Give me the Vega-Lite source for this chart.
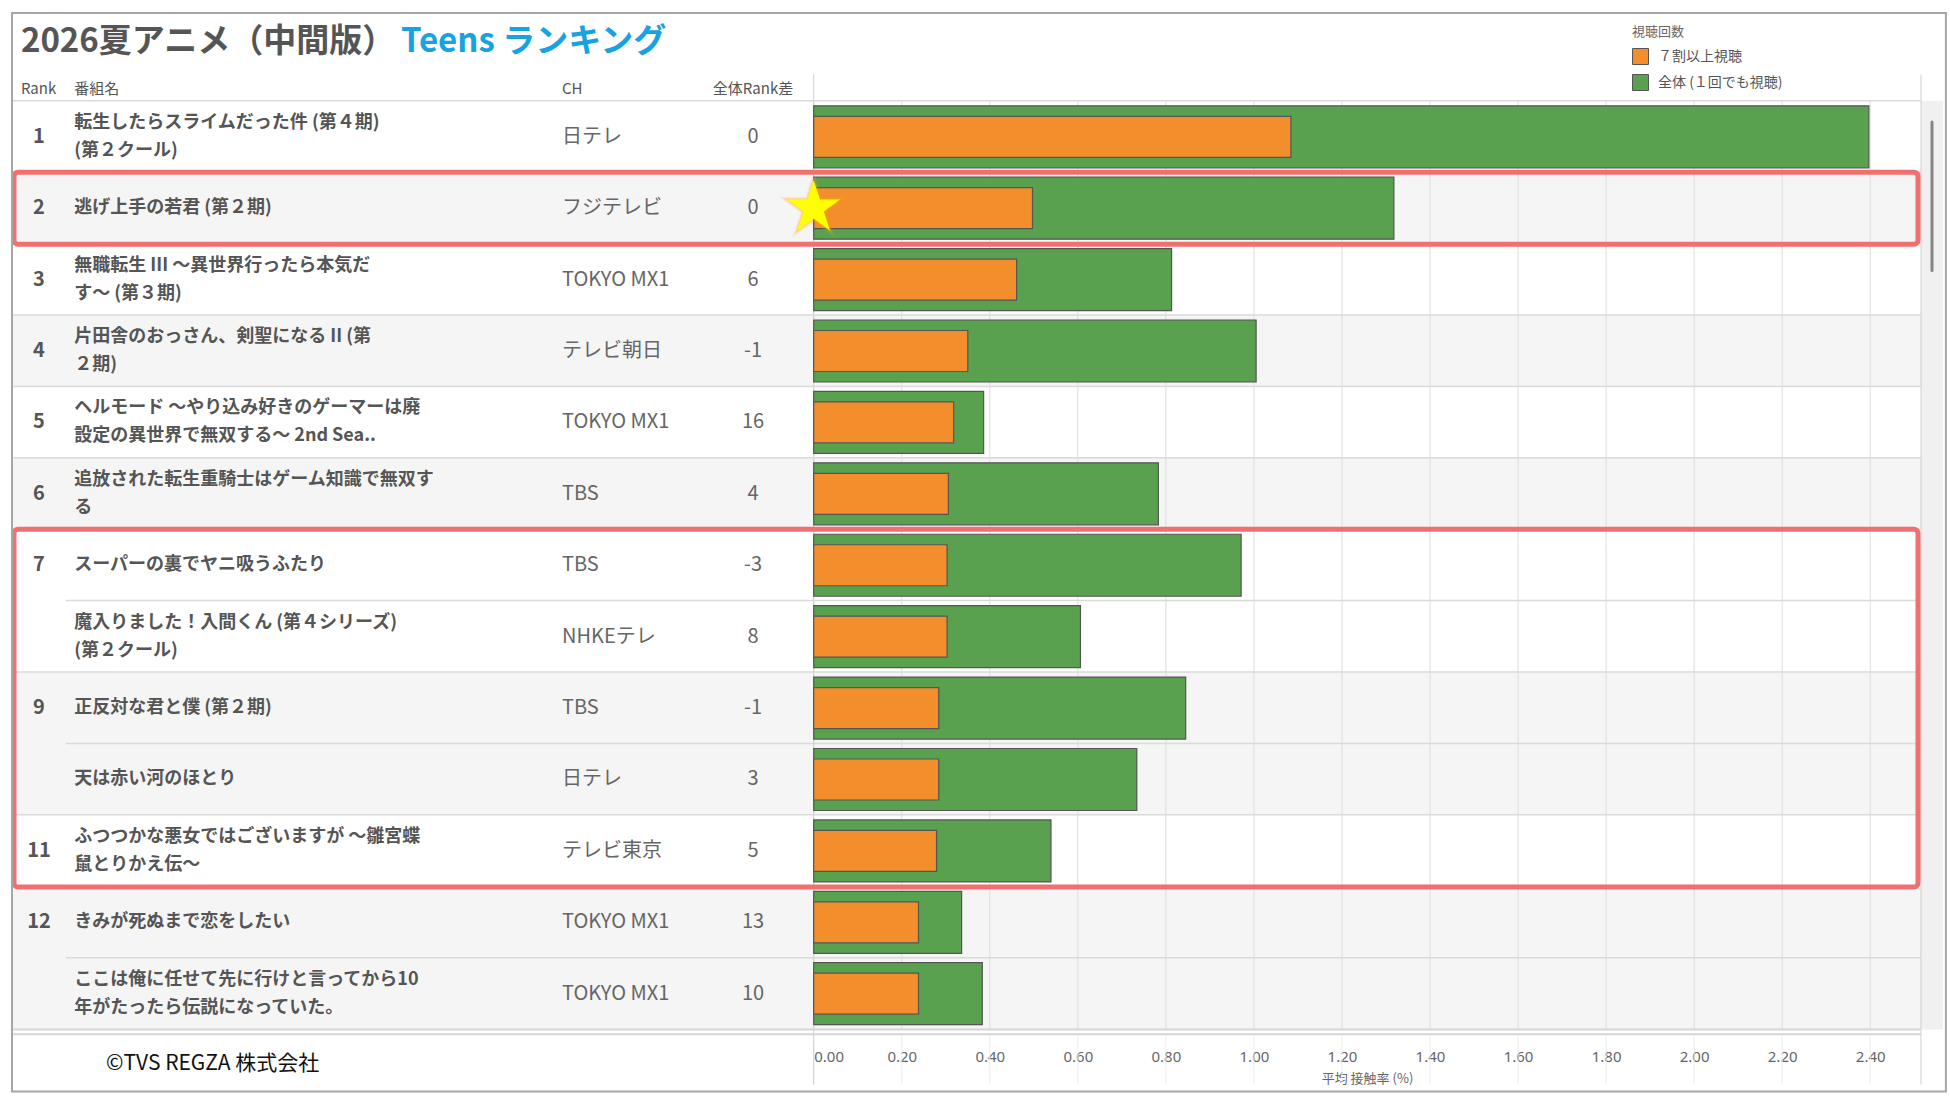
{
  "$schema": "https://vega.github.io/schema/vega-lite/v6.json",
  "width": 1950,
  "height": 1048,
  "padding": {"left": 0, "top": 0, "right": 0, "bottom": 52},
  "autosize": {"type": "none"},
  "background": "#ffffff",
  "config": {"font": "Noto Sans CJK JP", "view": {"stroke": null}},
  "datasets": {
    "rows": [
      {"pos": 1, "rank": 1, "tied": false, "name": "転生したらスライムだった件 (第４期)\n(第２クール)", "ch": "日テレ", "diff": "0", "all": 2.397, "top": 1.084},
      {"pos": 2, "rank": 2, "tied": false, "name": "逃げ上手の若君 (第２期)", "ch": "フジテレビ", "diff": "0", "all": 1.318, "top": 0.497},
      {"pos": 3, "rank": 3, "tied": false, "name": "無職転生 III ～異世界行ったら本気だ\nす～ (第３期)", "ch": "TOKYO MX1", "diff": "6", "all": 0.813, "top": 0.461},
      {"pos": 4, "rank": 4, "tied": false, "name": "片田舎のおっさん、剣聖になる II (第\n２期)", "ch": "テレビ朝日", "diff": "-1", "all": 1.005, "top": 0.35},
      {"pos": 5, "rank": 5, "tied": false, "name": "ヘルモード ～やり込み好きのゲーマーは廃\n設定の異世界で無双する～ 2nd Sea..", "ch": "TOKYO MX1", "diff": "16", "all": 0.386, "top": 0.318},
      {"pos": 6, "rank": 6, "tied": false, "name": "追放された転生重騎士はゲーム知識で無双す\nる", "ch": "TBS", "diff": "4", "all": 0.783, "top": 0.306},
      {"pos": 7, "rank": 7, "tied": false, "name": "スーパーの裏でヤニ吸うふたり", "ch": "TBS", "diff": "-3", "all": 0.971, "top": 0.303},
      {"pos": 8, "rank": 7, "tied": true, "name": "魔入りました！入間くん (第４シリーズ)\n(第２クール)", "ch": "NHKEテレ", "diff": "8", "all": 0.606, "top": 0.303},
      {"pos": 9, "rank": 9, "tied": false, "name": "正反対な君と僕 (第２期)", "ch": "TBS", "diff": "-1", "all": 0.845, "top": 0.284},
      {"pos": 10, "rank": 9, "tied": true, "name": "天は赤い河のほとり", "ch": "日テレ", "diff": "3", "all": 0.734, "top": 0.284},
      {"pos": 11, "rank": 11, "tied": false, "name": "ふつつかな悪女ではございますが ～雛宮蝶\n鼠とりかえ伝～", "ch": "テレビ東京", "diff": "5", "all": 0.539, "top": 0.279},
      {"pos": 12, "rank": 12, "tied": false, "name": "きみが死ぬまで恋をしたい", "ch": "TOKYO MX1", "diff": "13", "all": 0.336, "top": 0.238},
      {"pos": 13, "rank": 12, "tied": true, "name": "ここは俺に任せて先に行けと言ってから10\n年がたったら伝説になっていた。", "ch": "TOKYO MX1", "diff": "10", "all": 0.383, "top": 0.238}
    ],
    "ticks": [
      {"t": 0}, {"t": 0.2}, {"t": 0.4}, {"t": 0.6}, {"t": 0.8}, {"t": 1.0}, {"t": 1.2},
      {"t": 1.4}, {"t": 1.6}, {"t": 1.8}, {"t": 2.0}, {"t": 2.2}, {"t": 2.4}
    ],
    "boxes": [
      {"from": 2, "to": 2},
      {"from": 7, "to": 11}
    ]
  },
  "layer": [
    {
      "data": {"name": "rows"},
      "mark": {"type": "rect", "yOffset": -36.05, "y2Offset": 36.05},
      "encoding": {
        "x": {
          "datum": -1.8212,
          "title": "平均 接触率 (%)",
          "scale": {"domain": [-1.8485, 2.5813], "nice": false, "zero": false},
          "axis": {
            "orient": "bottom",
            "values": [0, 0.2, 0.4, 0.6, 0.8, 1.0, 1.2, 1.4, 1.6, 1.8, 2.0, 2.2, 2.4],
            "format": ".2f", "grid": false, "domain": false, "ticks": false, "tickSize": 0,
            "labelFont": "Noto Sans", "labelFontSize": 15, "labelColor": "#666666",
            "labelAlign": {"condition": {"test": "datum.value <= 0", "value": "left"}, "value": "center"},
            "labelPadding": 1, "labelFlush": false, "labelOverlap": false,
            "offset": 0,
            "titleFontSize": 13, "titleColor": "#666666",
            "titleFontWeight": "normal", "titlePadding": 8, "titleX": 1367, "titleAlign": "center"
          }
        },
        "x2": {"datum": 2.5154},
        "y": {"field": "pos", "type": "quantitative", "scale": {"domain": [-0.8454, 13.6901], "reverse": true, "nice": false, "zero": false}, "axis": null},
        "y2": {"field": "pos"},
        "fill": {
          "field": "rank", "type": "ordinal", "legend": null,
          "scale": {"domain": [1, 2, 3, 4, 5, 6, 7, 9, 11, 12],
                    "range": ["#ffffff", "#f5f5f5", "#ffffff", "#f5f5f5", "#ffffff", "#f5f5f5", "#ffffff", "#f5f5f5", "#ffffff", "#f5f5f5"]}
        }
      }
    },
    {
      "data": {"values": [{}]},
      "mark": {"type": "rect", "fill": "#f0f0f0"},
      "encoding": {
        "x": {"datum": 2.5154},
        "x2": {"datum": 2.5654},
        "y": {"datum": 0.5, "axis": null},
        "y2": {"datum": 13.5}
      }
    },
    {
      "data": {"name": "ticks"},
      "mark": {"type": "rule", "color": "#dcdcdc", "strokeWidth": 1},
      "encoding": {
        "x": {"field": "t", "type": "quantitative", "title": "平均 接触率 (%)"},
        "y": {"datum": 0.5, "axis": null},
        "y2": {"datum": 13.5}
      }
    },
    {
      "data": {"name": "ticks"},
      "mark": {"type": "rule", "color": "#ececec", "strokeWidth": 1},
      "encoding": {
        "x": {"field": "t", "type": "quantitative", "title": "平均 接触率 (%)"},
        "y": {"datum": 13.565, "axis": null},
        "y2": {"datum": 14.272}
      }
    },
    {
      "data": {"values": [{}]},
      "mark": {"type": "rule", "color": "#cfcfcf", "strokeWidth": 1},
      "encoding": {
        "x": {"datum": 0},
        "y": {"datum": 0.1255, "axis": null},
        "y2": {"datum": 14.272}
      }
    },
    {
      "data": {"values": [{}]},
      "mark": {"type": "rule", "color": "#cfcfcf", "strokeWidth": 1},
      "encoding": {
        "x": {"datum": 2.5154},
        "y": {"datum": 0.1255, "axis": null},
        "y2": {"datum": 14.272}
      }
    },
    {
      "data": {"name": "rows"},
      "transform": [{"filter": "!datum.tied"}],
      "mark": {"type": "rule", "color": "#dadada", "strokeWidth": 1.5, "yOffset": -36.05},
      "encoding": {
        "x": {"datum": -1.8212},
        "x2": {"datum": 2.5154},
        "y": {"field": "pos", "type": "quantitative", "axis": null}
      }
    },
    {
      "data": {"name": "rows"},
      "transform": [{"filter": "datum.tied"}],
      "mark": {"type": "rule", "color": "#dadada", "strokeWidth": 1.5, "yOffset": -36.05},
      "encoding": {
        "x": {"datum": -1.6986},
        "x2": {"datum": 2.5154},
        "y": {"field": "pos", "type": "quantitative", "axis": null}
      }
    },
    {
      "data": {"values": [{"line": 13.5}, {"line": 13.568}]},
      "mark": {"type": "rule", "color": "#d6d6d6", "strokeWidth": 2},
      "encoding": {
        "x": {"datum": -1.8212},
        "x2": {"datum": 2.5154},
        "y": {"field": "line", "type": "quantitative", "axis": null}
      }
    },
    {
      "data": {"name": "rows"},
      "mark": {"type": "bar", "orient": "horizontal", "height": 62, "stroke": "#555555", "strokeWidth": 1.2},
      "encoding": {
        "x": {"field": "all", "type": "quantitative", "title": "平均 接触率 (%)"},
        "x2": {"datum": 0},
        "y": {"field": "pos", "type": "quantitative", "axis": null},
        "color": {
          "datum": "全体 (１回でも視聴)",
          "scale": {"domain": ["７割以上視聴", "全体 (１回でも視聴)"], "range": ["#f28e2b", "#59a14f"]},
          "legend": {
            "title": "視聴回数", "orient": "none", "legendX": 1632, "legendY": 26,
            "titleFontSize": 13, "titleFontWeight": "normal", "titleColor": "#666666", "titlePadding": 9,
            "labelFontSize": 14, "labelColor": "#555555", "labelOffset": 9,
            "symbolType": "square", "symbolSize": 256, "symbolStrokeColor": "#555555", "symbolStrokeWidth": 1,
            "rowPadding": 5
          }
        }
      }
    },
    {
      "data": {"name": "rows"},
      "mark": {"type": "bar", "orient": "horizontal", "height": 41, "stroke": "#555555", "strokeWidth": 1.2},
      "encoding": {
        "x": {"field": "top", "type": "quantitative", "title": "平均 接触率 (%)"},
        "x2": {"datum": 0},
        "y": {"field": "pos", "type": "quantitative", "axis": null},
        "color": {"datum": "７割以上視聴"}
      }
    },
    {
      "data": {"values": [{}]},
      "mark": {"type": "text", "align": "left", "baseline": "middle", "fontSize": 33, "fontWeight": "bold", "color": "#555555"},
      "encoding": {
        "x": {"datum": -1.801},
        "y": {"datum": -0.3322, "axis": null},
        "text": {"value": "2026夏アニメ（中間版）"}
      }
    },
    {
      "data": {"values": [{}]},
      "mark": {"type": "text", "align": "left", "baseline": "middle", "fontSize": 33, "fontWeight": "bold", "color": "#17a2e3"},
      "encoding": {
        "x": {"datum": -0.9375},
        "y": {"datum": -0.3322, "axis": null},
        "text": {"value": "Teens ランキング"}
      }
    },
    {
      "data": {"values": [{}]},
      "mark": {"type": "text", "align": "left", "baseline": "middle", "fontSize": 15, "color": "#555555"},
      "encoding": {
        "x": {"datum": -1.801},
        "y": {"datum": 0.3336, "axis": null},
        "text": {"value": "Rank"}
      }
    },
    {
      "data": {"values": [{}]},
      "mark": {"type": "text", "align": "left", "baseline": "middle", "fontSize": 15, "color": "#555555"},
      "encoding": {
        "x": {"datum": -1.68},
        "y": {"datum": 0.3336, "axis": null},
        "text": {"value": "番組名"}
      }
    },
    {
      "data": {"values": [{}]},
      "mark": {"type": "text", "align": "left", "baseline": "middle", "fontSize": 15, "color": "#555555"},
      "encoding": {
        "x": {"datum": -0.5718},
        "y": {"datum": 0.3336, "axis": null},
        "text": {"value": "CH"}
      }
    },
    {
      "data": {"values": [{}]},
      "mark": {"type": "text", "align": "center", "baseline": "middle", "fontSize": 15, "color": "#555555"},
      "encoding": {
        "x": {"datum": -0.1379},
        "y": {"datum": 0.3336, "axis": null},
        "text": {"value": "全体Rank差"}
      }
    },
    {
      "data": {"name": "rows"},
      "transform": [{"filter": "!datum.tied"}],
      "mark": {"type": "text", "align": "center", "baseline": "middle", "fontSize": 20, "fontWeight": "bold", "color": "#555555"},
      "encoding": {
        "x": {"datum": -1.76},
        "y": {"field": "pos", "type": "quantitative", "axis": null},
        "text": {"field": "rank", "type": "nominal"}
      }
    },
    {
      "data": {"name": "rows"},
      "transform": [{"filter": "indexof(datum.name, '\\n') < 0"}],
      "mark": {"type": "text", "align": "left", "baseline": "middle", "fontSize": 18, "fontWeight": "bold", "color": "#555555"},
      "encoding": {
        "x": {"datum": -1.68},
        "y": {"field": "pos", "type": "quantitative", "axis": null},
        "text": {"field": "name", "type": "nominal"}
      }
    },
    {
      "data": {"name": "rows"},
      "transform": [{"filter": "indexof(datum.name, '\\n') >= 0"}],
      "mark": {"type": "text", "align": "left", "baseline": "middle", "fontSize": 18, "fontWeight": "bold", "color": "#555555", "lineHeight": 28, "lineBreak": "\n", "dy": -14},
      "encoding": {
        "x": {"datum": -1.68},
        "y": {"field": "pos", "type": "quantitative", "axis": null},
        "text": {"field": "name", "type": "nominal"}
      }
    },
    {
      "data": {"name": "rows"},
      "mark": {"type": "text", "align": "left", "baseline": "middle", "fontSize": 20, "color": "#666666"},
      "encoding": {
        "x": {"datum": -0.5718},
        "y": {"field": "pos", "type": "quantitative", "axis": null},
        "text": {"field": "ch", "type": "nominal"}
      }
    },
    {
      "data": {"name": "rows"},
      "mark": {"type": "text", "align": "center", "baseline": "middle", "fontSize": 20, "color": "#666666"},
      "encoding": {
        "x": {"datum": -0.1379},
        "y": {"field": "pos", "type": "quantitative", "axis": null},
        "text": {"field": "diff", "type": "nominal"}
      }
    },
    {
      "data": {"values": [{}]},
      "mark": {"type": "text", "align": "left", "baseline": "middle", "fontSize": 21, "color": "#111111"},
      "encoding": {
        "x": {"datum": -1.6076},
        "y": {"datum": 13.981, "axis": null},
        "text": {"value": "©TVS REGZA 株式会社"}
      }
    },
    {
      "data": {"name": "boxes"},
      "mark": {"type": "rect", "filled": false, "stroke": "#f07070", "strokeWidth": 5, "cornerRadius": 4, "yOffset": -36, "y2Offset": 36},
      "encoding": {
        "x": {"datum": -1.8167},
        "x2": {"datum": 2.5086},
        "y": {"field": "from", "type": "quantitative", "axis": null},
        "y2": {"field": "to"}
      }
    },
    {
      "data": {"name": "rows"},
      "transform": [{"filter": "datum.pos == 2"}],
      "mark": {"type": "point", "shape": "M0,-1L0.2245,-0.309L0.9511,-0.309L0.3633,0.118L0.5878,0.809L0,0.382L-0.5878,0.809L-0.3633,0.118L-0.9511,-0.309L-0.2245,-0.309Z", "filled": true, "size": 5400, "color": "#ffa500", "opacity": 0.15, "strokeWidth": 0},
      "encoding": {
        "x": {"datum": 0},
        "y": {"field": "pos", "type": "quantitative", "axis": null}
      }
    },
    {
      "data": {"name": "rows"},
      "transform": [{"filter": "datum.pos == 2"}],
      "mark": {"type": "point", "shape": "M0,-1L0.2245,-0.309L0.9511,-0.309L0.3633,0.118L0.5878,0.809L0,0.382L-0.5878,0.809L-0.3633,0.118L-0.9511,-0.309L-0.2245,-0.309Z", "filled": true, "size": 4100, "color": "#ffa500", "opacity": 0.3, "strokeWidth": 0},
      "encoding": {
        "x": {"datum": 0},
        "y": {"field": "pos", "type": "quantitative", "axis": null}
      }
    },
    {
      "data": {"name": "rows"},
      "transform": [{"filter": "datum.pos == 2"}],
      "mark": {"type": "point", "shape": "M0,-1L0.2245,-0.309L0.9511,-0.309L0.3633,0.118L0.5878,0.809L0,0.382L-0.5878,0.809L-0.3633,0.118L-0.9511,-0.309L-0.2245,-0.309Z", "filled": true, "size": 3100, "color": "#ffff00", "opacity": 1, "strokeWidth": 0},
      "encoding": {
        "x": {"datum": 0},
        "y": {"field": "pos", "type": "quantitative", "axis": null}
      }
    },
    {
      "data": {"values": [{}]},
      "mark": {"type": "rule", "color": "#858585", "strokeWidth": 3, "strokeCap": "round"},
      "encoding": {
        "x": {"datum": 2.5404},
        "y": {"datum": 0.7913, "axis": null},
        "y2": {"datum": 2.872}
      }
    },
    {
      "data": {"values": [{}]},
      "mark": {"type": "rect", "filled": false, "stroke": "#a6a6a6", "strokeWidth": 2},
      "encoding": {
        "x": {"datum": -1.8212},
        "x2": {"datum": 2.572},
        "y": {"datum": -0.7344, "axis": null},
        "y2": {"datum": 14.369}
      }
    }
  ]
}
